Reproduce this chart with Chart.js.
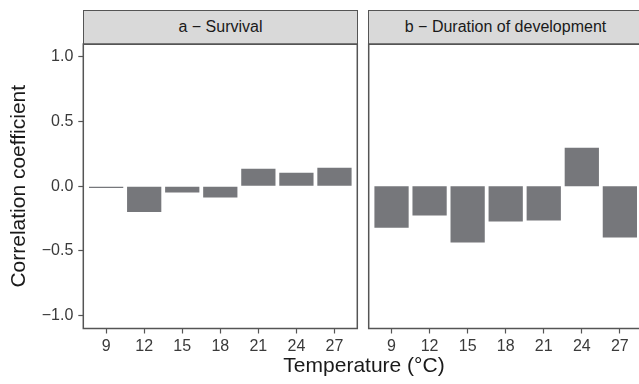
<!DOCTYPE html>
<html>
<head>
<meta charset="utf-8">
<script src="https://cdn.jsdelivr.net/npm/chart.js@4/dist/chart.umd.min.js"></script>
<style>
  html, body { margin: 0; padding: 0; background: #fff; }
  body { width: 639px; height: 384px; overflow: hidden; position: relative; font-family: "Liberation Sans", Arial, sans-serif; }
  canvas { position: absolute; top: 0; }
  #chartA { left: 0; }
  #chartB { left: 360px; }
  .strip {
    position: absolute; top: 10px; height: 35px; width: 275px; box-sizing: border-box;
    border: 1.5px solid #555; background: #d9d9d9; color: #1a1a1a;
    font-size: 16px; line-height: 32px; text-align: center; white-space: nowrap;
  }
  #xtitle {
    position: absolute; left: 214px; width: 300px; top: 353px; text-align: center;
    font-size: 21px; line-height: 24px; color: #1a1a1a;
  }
</style>
</head>
<body>
<div class="strip" style="left:83px">a − Survival</div>
<div class="strip" style="left:368px">b − Duration of development</div>
<canvas id="chartA" width="360" height="384"></canvas>
<canvas id="chartB" width="290" height="384"></canvas>
<div id="xtitle">Temperature (°C)</div>
<script>
// valores
const temps = [9, 12, 15, 18, 21, 24, 27];
const survival = [-0.006, -0.20, -0.048, -0.087, 0.135, 0.104, 0.143];
const duration = [-0.32, -0.226, -0.435, -0.272, -0.265, 0.298, -0.396];
const yTicks = [-1, -0.5, 0, 0.5, 1];
const yTickLabels = ["−1.0", "−0.5", "0.0", "0.5", "1.0"];

Chart.defaults.font.family = '"Liberation Sans", Arial, sans-serif';

const barColor = "#76777b";
const lineColor = "#555";

// marco del panel
const panelBox = {
  id: "panelBox",
  afterDraw(chart) {
    const { ctx, chartArea: a } = chart;
    ctx.save();
    ctx.strokeStyle = lineColor;
    ctx.lineWidth = 1.5;
    ctx.strokeRect(a.left, a.top, a.right - a.left, a.bottom - a.top);
    ctx.restore();
  },
};

const xScale = () => ({
  type: "linear",
  offset: false,
  min: -0.6,
  max: 6.6,
  afterBuildTicks: (axis) => {
    axis.ticks = temps.map((t, i) => ({ value: i }));
  },
  afterFit: (s) => {
    s.height = 384 - 328.5;
  },
  ticks: {
    autoSkip: false,
    maxRotation: 0,
    padding: 3,
    color: "#3a3a3a",
    font: { size: 16 },
    callback: (v) => temps[v],
  },
  grid: { offset: false, drawOnChartArea: false, drawTicks: true, tickLength: 5, tickColor: lineColor, tickWidth: 1.2 },
  border: { display: false },
});

const makeData = (values) => ({
  datasets: [
    {
      data: values.map((v, i) => ({ x: i, y: v })),
      backgroundColor: barColor,
      borderWidth: 0,
      barPercentage: 0.9,
      categoryPercentage: 1,
      minBarLength: 1.75,
    },
  ],
});

const chartA = new Chart(document.querySelector("#chartA"), {
  type: "bar",
  data: makeData(survival),
  plugins: [panelBox],
  options: {
    responsive: false,
    animation: false,
    layout: { padding: { top: 44, right: 2.7, left: 0, bottom: 0 } },
    plugins: { legend: { display: false }, tooltip: { enabled: false } },
    scales: {
      x: xScale(),
      y: {
        min: -1.1,
        max: 1.1,
        afterBuildTicks: (axis) => {
          axis.ticks = yTicks.map((v) => ({ value: v }));
        },
        afterFit: (s) => {
          s.width = 83.3;
        },
        ticks: {
          padding: 5,
          color: "#3a3a3a",
          font: { size: 16 },
          callback: (v) => yTickLabels[yTicks.indexOf(v)],
        },
        grid: { drawOnChartArea: false, drawTicks: true, tickLength: 5, tickColor: lineColor, tickWidth: 1.2 },
        border: { display: false },
        title: {
          display: true,
          text: "Correlation coefficient",
          color: "#1a1a1a",
          font: { size: 21 },
          padding: { top: 7, bottom: 0 },
        },
      },
    },
  },
});

const chartB = new Chart(document.querySelector("#chartB"), {
  type: "bar",
  data: makeData(duration),
  plugins: [panelBox],
  options: {
    responsive: false,
    animation: false,
    layout: { padding: { top: 44, right: 7.3, left: 8.7, bottom: 0 } },
    plugins: { legend: { display: false }, tooltip: { enabled: false } },
    scales: {
      x: xScale(),
      y: {
        display: false,
        min: -1.1,
        max: 1.1,
      },
    },
  },
});
</script>
</body>
</html>
